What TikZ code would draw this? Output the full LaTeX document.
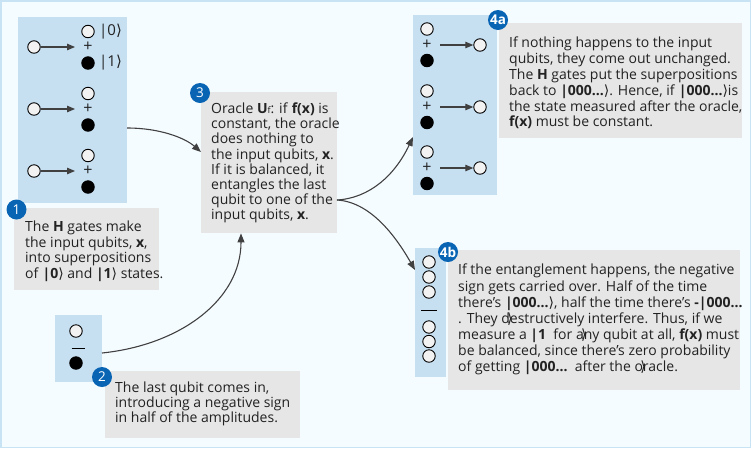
\documentclass[tikz,border=0pt]{standalone}
\usepackage{fontspec}
\setmainfont{Open Sans}
\newfontfamily\dv{DejaVu Sans}
\usetikzlibrary{arrows.meta}
\definecolor{bgc}{HTML}{F5FCFF}
\definecolor{bordc}{HTML}{C8E3F3}
\definecolor{panelc}{HTML}{C6E0F2}
\definecolor{grayc}{HTML}{E6E6E6}
\definecolor{badgec}{HTML}{0A64B4}
\definecolor{arrc}{HTML}{404040}
\definecolor{txtc}{HTML}{222222}
\definecolor{wfill}{HTML}{F2F2F2}
\newcommand{\rang}{{\dv ⟩}}
\newcommand{\olang}{\makebox[0pt]{\rang}}
\tikzset{
  panel/.style={fill=panelc, draw=none, anchor=north west, inner sep=0pt},
  graybox/.style={fill=grayc, draw=none, anchor=north west, inner sep=0pt},
  wq/.style={circle, draw=black, line width=0.9pt, fill=wfill, minimum size=12.5pt, inner sep=0pt},
  bq/.style={circle, draw=black, line width=0.9pt, fill=black, minimum size=12.5pt, inner sep=0pt},
  plus/.style={inner sep=0pt, font=\fontsize{16}{16}\selectfont, text=txtc},
  badge/.style={circle, fill=badgec, text=white, minimum size=20pt, inner sep=0pt, font=\fontsize{13.5}{13.5}\selectfont},
  txt/.style={anchor=north west, inner sep=0pt, align=left, text=txtc, font=\fontsize{14}{15.8}\selectfont},
  arr/.style={draw=arrc, line width=1.1pt, -{Triangle[length=8pt,width=6.5pt]}},
  conn/.style={draw=arrc, line width=1.1pt, -{Triangle[length=9pt,width=7pt]}},
  kl/.style={inner sep=0pt, anchor=west, text=txtc, font=\fontsize{15}{15}\selectfont}
}
\begin{document}
\begin{tikzpicture}[x=1pt,y=-1pt]
\useasboundingbox (0,0) rectangle (751,448);
\fill[bgc] (0,0) rectangle (751,448);
\draw[bordc, line width=1.5pt] (0.75,0.75) rectangle (750.25,447.25);

% Panel 1
\node[panel, minimum width=109pt, minimum height=186pt] (p1) at (18,17) {};
\foreach \i/\y in {1/47,2/109,3/171}{
  \node[wq] (in\i) at (34,\y) {};
  \node[plus] (pl\i) at (88,\y) {+};
  \node[wq] (top\i) at (88,\y-15.5) {};
  \node[bq] (bot\i) at (88,\y+16) {};
  \draw[arr] (in\i.east) -- (75,\y);
}
\node[kl] (k0) at (99,31.5) {|0\rang};
\node[kl] (k1) at (99,63) {|1\rang};

% Box 1
\node[graybox, minimum width=145pt, minimum height=82pt] (g1) at (14,208) {};
\node[txt, font=\fontsize{14}{15.5}\selectfont] (t1) at (25,221) {The \textbf{H} gates make\\the input qubits, \textbf{x},\\into superpositions\\of \textbf{|0}\rang{} and \textbf{|1}\rang{} states.};
\node[badge] (b1) at (16.5,209.5) {1};

% Panel 2
\node[panel, minimum width=47pt, minimum height=67pt] (p2) at (55,315) {};
\node[wq] (p2w) at (76,331) {};
\draw[black, line width=1.6pt] (71.5,348.5) -- (84.5,348.5);
\node[bq] (p2b) at (76,363) {};

% Box 2
\node[graybox, minimum width=195pt, minimum height=67pt] (g2) at (105,371) {};
\node[txt, font=\fontsize{14}{15}\selectfont] (t2) at (115,381.5) {The last qubit comes in,\\introducing a negative sign\\in half of the amplitudes.};
\node[badge] (b2) at (102,377) {2};

% Box 3
\node[graybox, minimum width=136pt, minimum height=141pt] (g3) at (201,92) {};
\node[txt, font=\fontsize{14}{15.2}\selectfont] (t3) at (211,102.5) {Oracle \textbf{U}{\fontsize{9}{9}\selectfont f}: if \textbf{f(x)} is\\constant, the oracle\\does nothing to\\the input qubits, \textbf{x}.\\If it is balanced, it\\entangles the last\\qubit to one of the\\input qubits, \textbf{x}.};
\node[badge] (b3) at (200,93) {3};

% Panel 4a
\node[panel, minimum width=84pt, minimum height=180pt] (p4a) at (413,15) {};
\foreach \i/\y in {1/45,2/107,3/168}{
  \node[plus] (apl\i) at (427,\y) {+};
  \node[wq] (atop\i) at (427,\y-16) {};
  \node[bq] (abot\i) at (427,\y+15.5) {};
  \node[wq] (aout\i) at (480,\y) {};
  \draw[arr] (440,\y) -- (aout\i.west);
}
% Box 4a
\node[graybox, minimum width=243pt, minimum height=115pt] (g4a) at (499,23) {};
\node[txt, font=\fontsize{14}{15.9}\selectfont] (t4a) at (509,36.5) {If nothing happens to the input\\qubits, they come out unchanged.\\The \textbf{H} gates put the superpositions\\back to \textbf{|000...}\rang. Hence, if \textbf{|000...}\rang is\\the state measured after the oracle,\\\textbf{f(x)} must be constant.};
\node[badge] (b4a) at (498,20) {\textbf{4a}};

% Panel 4b
\node[panel, minimum width=31pt, minimum height=129pt] (p4b) at (415,248) {};
\foreach \i/\y in {1/262,2/277,3/292,4/327,5/341.5,6/356}{
  \node[wq] (bc\i) at (429,\y) {};
}
\draw[black, line width=1.6pt] (421,310.5) -- (437,310.5);
% Box 4b
\node[graybox, minimum width=292pt, minimum height=140pt] (g4b) at (448,250) {};
\node[txt, font=\fontsize{14}{16.1}\selectfont] (t4b) at (458,264) {If the entanglement happens, the negative\\sign gets carried over. Half of the time\\there's \textbf{|000...}\rang, half the time there's \textbf{-|000...}\\. They d\olang estructively interfere. Thus, if we\\measure a \textbf{|1}\ \ for a\olang ny qubit at all, \textbf{f(x)} must\\be balanced, since there's zero probability\\of getting \textbf{|000...}\ \ after the o\olang racle.};
\node[badge] (b4b) at (448,252) {\textbf{4b}};

% Connectors
\coordinate (s1) at (127,128);
\coordinate (e3in) at (198,152);
\draw[conn] (s1) .. controls (160,128) and (185,138) .. (g3.west |- e3in);
\coordinate (s2) at (102,353);
\draw[conn] (s2) .. controls (180,345) and (241,300) .. (g3.south -| 241,0);
\coordinate (s3) at (337,200);
\draw[conn] (s3) .. controls (370,198) and (395,175) .. (p4a.west |- 0,137);
\draw[conn] (s3) .. controls (370,202) and (395,235) .. (p4b.west |- 0,270);
\end{tikzpicture}
\end{document}
